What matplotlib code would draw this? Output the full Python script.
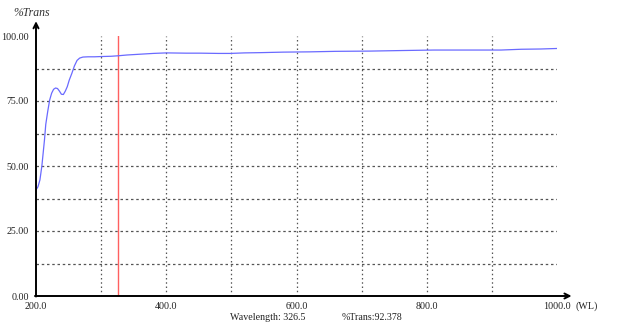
import matplotlib
matplotlib.use("Agg")
import matplotlib.pyplot as plt

# Data
wavelength = [200, 203, 206, 209, 211, 213, 215, 218, 221, 224, 227, 230, 233, 236,
              239, 242, 245, 248, 251, 255, 259, 263, 267, 272, 280, 290, 300, 315,
              326.5, 340, 360, 380, 400, 430, 452, 480, 498, 520, 545, 580, 620, 660,
              714, 760, 811, 860, 914, 945, 975, 1000]
trans = [40.8, 42.0, 44.6, 50.0, 55.0, 60.0, 66.0, 71.0, 75.4, 78.0, 79.5, 80.0, 79.8,
         78.8, 77.6, 77.5, 78.8, 80.5, 83.0, 85.6, 88.5, 90.6, 91.5, 91.9, 92.0, 92.0,
         92.1, 92.2, 92.4, 92.7, 93.0, 93.3, 93.5, 93.4, 93.4, 93.3, 93.3, 93.5, 93.6,
         93.8, 93.9, 94.1, 94.2, 94.4, 94.6, 94.6, 94.6, 94.9, 95.0, 95.2]

x_tick_vals = [200, 400, 600, 800, 1000]
x_tick_labels = ["200.0", "400.0", "600.0", "800.0", "1000.0"]
y_tick_vals = [0, 25, 50, 75, 100]
y_tick_labels = ["0.00", "25.00", "50.00", "75.00", "100.00"]
x_grid = [300, 400, 500, 600, 700, 800, 900]
y_grid = [12.5, 25, 37.5, 50, 62.5, 75, 87.5]
cursor_wl = 326.5
cursor_trans = 92.378

serif = ["Liberation Serif", "DejaVu Serif"]

fig = plt.figure(figsize=(6.4, 3.3), dpi=100)
ax = fig.add_axes([36/640, 1-296/330, 521/640, 260/330])
ax.set_xlim(200, 1000)
ax.set_ylim(0, 100)

for xv in x_grid:
    ax.axvline(xv, color="#555555", lw=0.9, ls=(0, (1.2, 2.2)), zorder=1)
for yv in y_grid:
    ax.axhline(yv, color="#555555", lw=0.9, ls=(0, (2, 2.2)), zorder=1)

ax.plot(wavelength, trans, color="#6a6aff", lw=0.9, zorder=3)
ax.axvline(cursor_wl, color="#ff6060", lw=1.0, zorder=2)

for s in ax.spines.values():
    s.set_visible(False)

ax.annotate("", xy=(0, 1.057), xytext=(0, -0.002), xycoords="axes fraction",
            arrowprops=dict(arrowstyle="->", lw=1.4, color="black",
                            shrinkA=0, shrinkB=0, mutation_scale=9), annotation_clip=False)
ax.annotate("", xy=(1.028, 0), xytext=(-0.002, 0), xycoords="axes fraction",
            arrowprops=dict(arrowstyle="->", lw=1.4, color="black",
                            shrinkA=0, shrinkB=0, mutation_scale=9), annotation_clip=False)

ax.set_xticks(x_tick_vals)
ax.set_xticklabels(x_tick_labels, family=serif, fontsize=7.2, color="#222222")
ax.set_yticks(y_tick_vals)
ax.set_yticklabels(y_tick_labels, family=serif, fontsize=7.2, color="#222222")
ax.tick_params(length=0, pad=5)
ax.tick_params(axis="x", pad=4)

fig.text(13/640, 1-13/330, "%Trans", family=serif, style="italic", fontsize=8.5,
         color="#333333", va="center", ha="left")
fig.text(576/640, 1-306/330, "(WL)", family=serif, fontsize=7.2, color="#222222",
         va="center", ha="left")
fig.text(230/640, 1-318/330, f"Wavelength: {cursor_wl}", family=serif, fontsize=7.2,
         color="#222222", va="center", ha="left")
fig.text(342/640, 1-318/330, f"%Trans:{cursor_trans}", family=serif, fontsize=7.2,
         color="#222222", va="center", ha="left")

fig.savefig("out.png", dpi=100)
